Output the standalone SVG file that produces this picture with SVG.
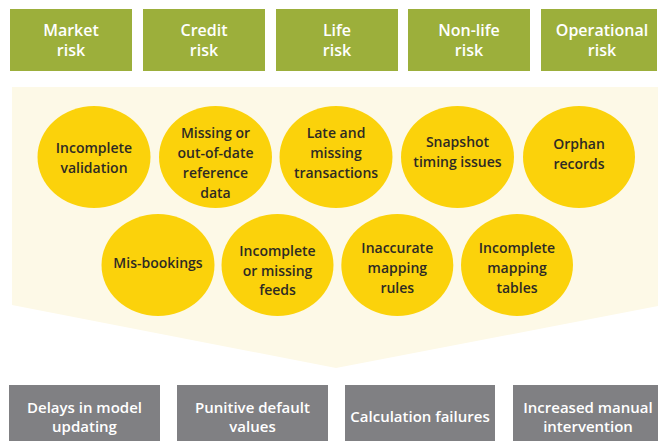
<svg xmlns="http://www.w3.org/2000/svg" width="658" height="441" viewBox="0 0 658 441">
  <style>
    .risk { fill: #9caf3b; }
    .risk-t { fill: #ffffff; font-family: "Open Sans", "Noto Sans", sans-serif; font-weight: 600; font-size: 16px; text-anchor: middle; }
    .issue { fill: #fbd20b; }
    .issue-t { fill: #2e2a24; font-family: "Open Sans", "Noto Sans", sans-serif; font-weight: 600; font-size: 14px; text-anchor: middle; }
    .effect { fill: #808083; }
    .effect-t { fill: #ffffff; font-family: "Open Sans", "Noto Sans", sans-serif; font-weight: 600; font-size: 15px; text-anchor: middle; }
  </style>

  <rect width="658" height="441" fill="#ffffff"/>

  <!-- funnel backdrop -->
  <path d="M12 87 H658 V306 L336 368 L12 305 Z" fill="#fdf9e7"/>

  <!-- risk categories -->
  <g id="market-risk"><rect class="risk" x="10" y="9" width="122" height="62"/>
    <text class="risk-t" x="71" y="35.5">Market<tspan x="71" dy="20.5">risk</tspan></text></g>
  <g id="credit-risk"><rect class="risk" x="143" y="9" width="122" height="62"/>
    <text class="risk-t" x="204" y="35.5">Credit<tspan x="204" dy="20.5">risk</tspan></text></g>
  <g id="life-risk"><rect class="risk" x="276" y="9" width="122" height="62"/>
    <text class="risk-t" x="337" y="35.5">Life<tspan x="337" dy="20.5">risk</tspan></text></g>
  <g id="nonlife-risk"><rect class="risk" x="408" y="9" width="122" height="62"/>
    <text class="risk-t" x="469" y="35.5">Non-life<tspan x="469" dy="20.5">risk</tspan></text></g>
  <g id="operational-risk"><rect class="risk" x="541" y="9" width="116" height="62"/>
    <text class="risk-t" x="602" y="35.5">Operational<tspan x="602" dy="20.5">risk</tspan></text></g>

  <!-- data issues, first row -->
  <g id="incomplete-validation"><ellipse class="issue" cx="94" cy="157" rx="56.5" ry="51"/>
    <text class="issue-t" x="94" y="153">Incomplete<tspan x="94" dy="20">validation</tspan></text></g>
  <g id="missing-reference"><ellipse class="issue" cx="215.5" cy="157" rx="56.5" ry="51"/>
    <text class="issue-t" x="215.5" y="137.5">Missing or<tspan x="215.5" dy="20">out-of-date</tspan><tspan x="215.5" dy="20">reference</tspan><tspan x="215.5" dy="20">data</tspan></text></g>
  <g id="late-transactions"><ellipse class="issue" cx="336" cy="157" rx="56.5" ry="51"/>
    <text class="issue-t" x="336" y="137.5">Late and<tspan x="336" dy="20">missing</tspan><tspan x="336" dy="20">transactions</tspan></text></g>
  <g id="snapshot-timing"><ellipse class="issue" cx="457.5" cy="157" rx="56.5" ry="51"/>
    <text class="issue-t" x="457.5" y="147">Snapshot<tspan x="457.5" dy="20">timing issues</tspan></text></g>
  <g id="orphan-records"><ellipse class="issue" cx="579" cy="157" rx="56" ry="51"/>
    <text class="issue-t" x="579" y="149">Orphan<tspan x="579" dy="19.5">records</tspan></text></g>

  <!-- data issues, second row -->
  <g id="mis-bookings"><ellipse class="issue" cx="158" cy="265" rx="56.5" ry="51"/>
    <text class="issue-t" x="158" y="267.5">Mis-bookings</text></g>
  <g id="missing-feeds"><ellipse class="issue" cx="277.5" cy="265" rx="56" ry="51"/>
    <text class="issue-t" x="277.5" y="255.5">Incomplete<tspan x="277.5" dy="20">or missing</tspan><tspan x="277.5" dy="19.5">feeds</tspan></text></g>
  <g id="mapping-rules"><ellipse class="issue" cx="397.3" cy="265" rx="56" ry="51"/>
    <text class="issue-t" x="397.3" y="253">Inaccurate<tspan x="397.3" dy="20">mapping</tspan><tspan x="397.3" dy="20">rules</tspan></text></g>
  <g id="mapping-tables"><ellipse class="issue" cx="517" cy="265" rx="56" ry="51"/>
    <text class="issue-t" x="517" y="253">Incomplete<tspan x="517" dy="20">mapping</tspan><tspan x="517" dy="20">tables</tspan></text></g>

  <!-- consequences -->
  <g id="delays"><rect class="effect" x="9" y="385" width="151" height="56"/>
    <text class="effect-t" x="84.5" y="413">Delays in model<tspan x="84.5" dy="19">updating</tspan></text></g>
  <g id="punitive-defaults"><rect class="effect" x="177" y="385" width="151" height="56"/>
    <text class="effect-t" x="252.5" y="413">Punitive default<tspan x="252.5" dy="19">values</tspan></text></g>
  <g id="calculation-failures"><rect class="effect" x="345" y="385" width="150" height="56"/>
    <text class="effect-t" x="420" y="422">Calculation failures</text></g>
  <g id="manual-intervention"><rect class="effect" x="513" y="385" width="145" height="56"/>
    <text class="effect-t" x="588" y="413">Increased manual<tspan x="588" dy="19">intervention</tspan></text></g>

  <g id="connectors"/>
</svg>
